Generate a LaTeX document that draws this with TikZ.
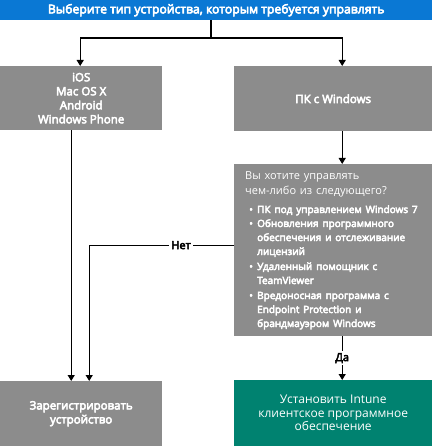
\documentclass[tikz,border=0pt]{standalone}
\usepackage{fontspec}
\setmainfont{Open Sans}[BoldFont={Open Sans}, BoldFeatures={FakeBold=4.5}]
\usetikzlibrary{arrows.meta,calc}
\definecolor{msblue}{HTML}{0A78D4}
\definecolor{boxgray}{HTML}{8C8C8C}
\definecolor{itteal}{HTML}{008270}
\newcommand\qlines[1]{\begin{tabular}[t]{@{}l@{}}#1\end{tabular}}
\newcommand\qitem[1]{\par\vspace{0pt}\noindent\makebox[12pt][l]{\hspace{4pt}\textbullet}\qlines{#1}}
\begin{document}
\begin{tikzpicture}[x=1pt,y=-1pt,
  box/.style={fill=boxgray, text=white, inner sep=0pt, anchor=north west, align=center,
    font=\bfseries\fontsize{11.5}{14}\selectfont},
  conn/.style={line width=1.2pt, draw=black},
  arr/.style={conn, -{Triangle[width=7pt,length=6pt]}},
  lbl/.style={fill=white, inner sep=2pt, font=\bfseries\fontsize{11}{13}\selectfont}]
\useasboundingbox (0,0) rectangle (432,446);
\node[box, fill=msblue, minimum width=432pt, minimum height=20pt, font=\bfseries\fontsize{12.2}{14}\selectfont] (top) at (0,0)
  {Выберите тип устройства, которым требуется управлять};
\node[box, minimum width=162pt, minimum height=64pt] (dev) at (0,66)
  {iOS\\Mac OS X\\Android\\Windows Phone};
\node[box, minimum width=198pt, minimum height=65pt] (pc) at (234,66) {ПК с Windows};
\node[box, minimum width=198pt, minimum height=172pt, text width=176pt, inner xsep=11pt, align=left] (q) at (234,164)
  {\noindent{\mdseries\fontsize{11}{15}\selectfont\qlines{Вы хотите управлять\\чем-либо из следующего?}}\par
   \vspace{3pt}\fontsize{10}{14}\selectfont
   \qitem{ПК под управлением Windows 7}
   \qitem{Обновления программного\\обеспечения и отслеживание\\лицензий}
   \qitem{Удаленный помощник с\\TeamViewer}
   \qitem{Вредоносная программа с\\Endpoint Protection и\\брандмауэром Windows}\par};
\node[box, minimum width=162pt, minimum height=65pt] (reg) at (0,381)
  {Зарегистрировать\\устройство};
\node[box, fill=itteal, minimum width=198pt, minimum height=66pt, font=\fontsize{12}{13.5}\selectfont] (inst) at (234,380)
  {Установить Intune\\клиентское программное\\обеспечение};
\coordinate (split) at (211,38);
\draw[conn] (top.south -| split) -- (split);
\draw[arr] (split) -| ($(dev.north)+(-1,0)$);
\draw[arr] (split) -| ($(pc.north)+(9,0)$);
\draw[arr] ($(pc.south)+(9,0)$) -- ($(q.north)+(9,0)$);
\draw[arr] ($(q.south)+(9,0)$) -- node[lbl]{Да} ($(inst.north)+(9,0)$);
\draw[arr] ($(dev.south)+(-10,0)$) -- ($(reg.north)+(-10,0)$);
\draw[arr] ($(q.west)+(0,-5)$) -| node[lbl, pos=0.183]{Нет} ($(reg.north)+(8,0)$);
\end{tikzpicture}
\end{document}
